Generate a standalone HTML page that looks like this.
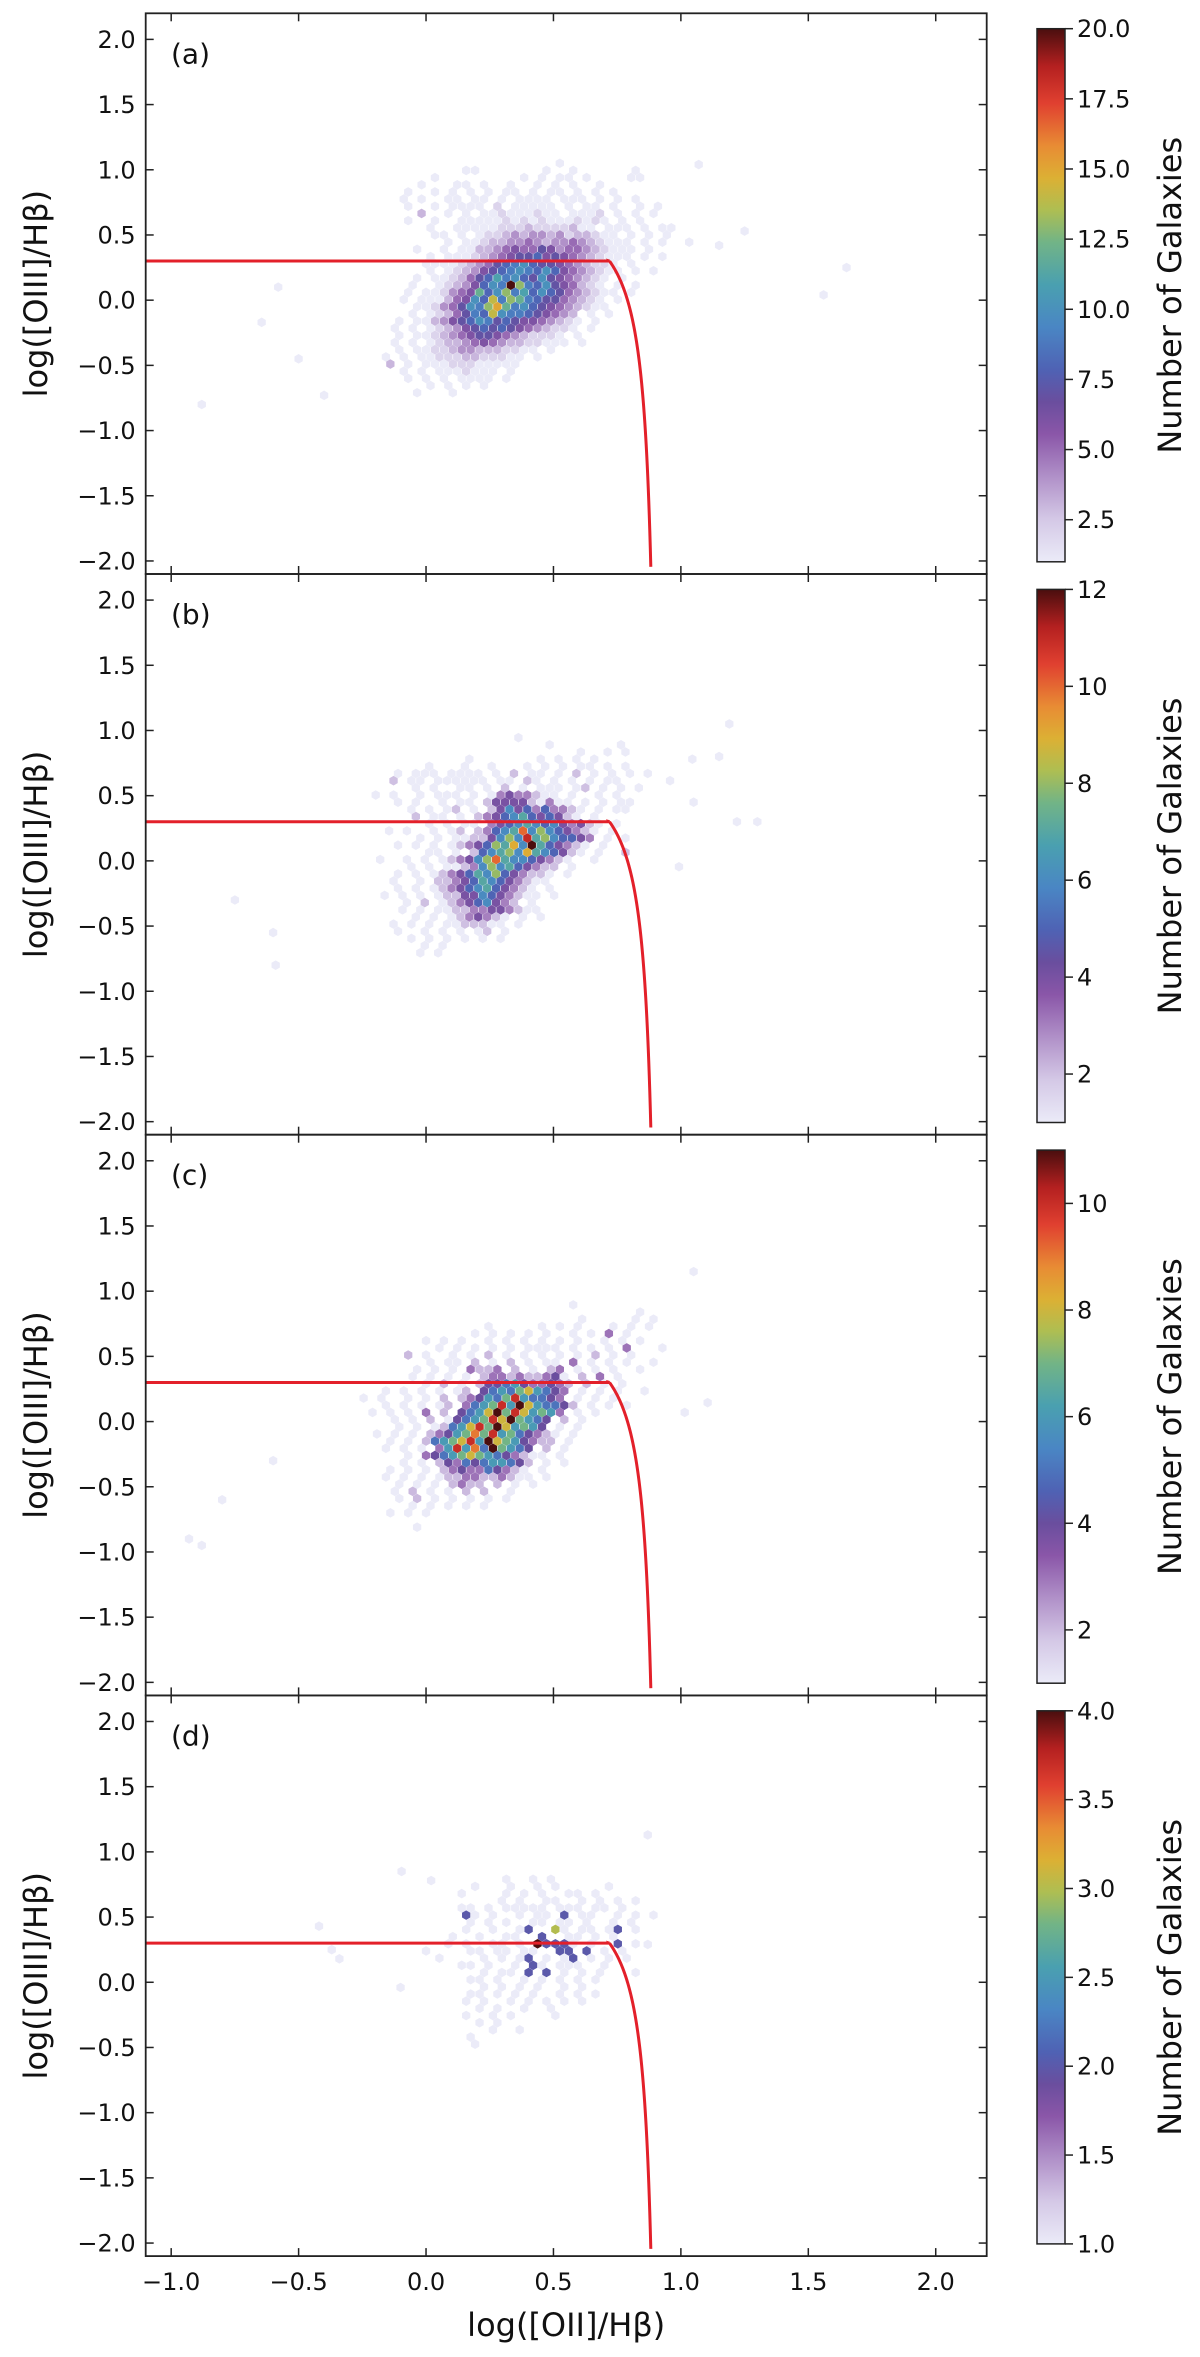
<!DOCTYPE html>
<html><head><meta charset="utf-8"><style>
body{margin:0;background:#fff}
svg{display:block}
text{font-family:"DejaVu Sans","Liberation Sans",sans-serif;fill:#111}
</style></head><body>
<svg id="fig" width="1200" height="2357" viewBox="0 0 1200 2357" xmlns="http://www.w3.org/2000/svg">
<defs>
<linearGradient id="cmap" x1="0" y1="1" x2="0" y2="0">
<stop offset="0" stop-color="#ebebf8"/><stop offset="0.08" stop-color="#d4c8e6"/><stop offset="0.16" stop-color="#b090c8"/><stop offset="0.24" stop-color="#8a56a8"/><stop offset="0.3" stop-color="#6a4e9e"/><stop offset="0.36" stop-color="#4f62b4"/><stop offset="0.44" stop-color="#4a86c4"/><stop offset="0.52" stop-color="#4aa0b0"/><stop offset="0.6" stop-color="#72b486"/><stop offset="0.66" stop-color="#aebe52"/><stop offset="0.72" stop-color="#dcb034"/><stop offset="0.78" stop-color="#e88c34"/><stop offset="0.86" stop-color="#e04030"/><stop offset="0.93" stop-color="#b42020"/><stop offset="1" stop-color="#4a0e0e"/>
</linearGradient>
</defs>
</svg>
<script>
const xTicks=[-1.0,-0.5,0.0,0.5,1.0,1.5,2.0];
const yTicks=[-2.0,-1.5,-1.0,-0.5,0.0,0.5,1.0,1.5,2.0];
const panelLabels=["(a)","(b)","(c)","(d)"];
const cbMax=[20,12,11,4];
const cbTicksA=[2.5,5.0,7.5,10.0,12.5,15.0,17.5,20.0];
const cbTicksB=[2,4,6,8,10,12];
const cbTicksC=[2,4,6,8,10];
const cbTicksD=[1.0,1.5,2.0,2.5,3.0,3.5,4.0];
const gridOrigin=[[-0.35,1.05],[-0.32,1.0],[-0.35,0.95],[-0.315,0.9]];
const gridA=[
".........................1..............",
"..............11.......1..1......1......",
"...........1.........1.1.11.1....11.....",
".........1...11.1..1..1.1.1..1..........",
"........1..1.1.1.1.11.1.11.1.1.1........",
".......1.1..11.11.1.1111.111.1.1.1......",
"........1..1.1111.2.11111.1.11.1..1.1...",
".........3..1.1.112111211.1112.1.1.1....",
"........1..1..11111212121112121.1.1.....",
"..........1..1111122232222311.111.1.11..",
"...........11.1.1223434434233211.1.1.1..",
"............1.1123344543445432111.1.1..1",
".........1..1.11334565576455432111.1....",
"..........1.111234567786765432111.1.1...",
"..........11112345789a8776543221.1......",
"..........1.12346789a98a86543211.1.1....",
".........1.1123578b9a87a7654321.1.......",
"........1..123468a9kd98a765321.1.1......",
"........1.112456c8ad9b8a87543211.1......",
".......1.111356a8e9dc987754321.1........",
".........112457a9dfc9a876543211.........",
"........1.1235798ea99876543.1.1.........",
".......1.1134678a97876654321.1..........",
"......1.1.12346787876543221.1...........",
".......1.11234567765432221.1............",
"......1.1.1233456543322111.1............",
".......1.11223443332211.1...............",
".....1.1.112223322211.1.................",
"......3.1.11122211111...................",
".......1.1.1112111.1....................",
"........1.1.1.1111.1....................",
"..........1.1.1.1.......................",
".........1...1.........................."];
const gridB=[
"........................................",
"...................1....................",
".......................1.......1........",
"..........................1..1.1........",
"..............1.......1.1.1.1..........1",
".........1...1..1...1.1.1.11.1.1........",
"......1.111.1111.1.2.11.1.2.1.1.1.1.....",
".....2.11.111111.11.21.1.1.1.11.....1...",
"........1.1..11.1.2.1.111.12.1.1.1......",
"...1.1..1.111.1.13433211.1..1.1.........",
"......1.1..1.11.2444421311.1.1.11.......",
".......1.1.12.1.24645353321.1.11........",
"........2.11.1.234567545421.1...........",
".........1.1.11.3456765643421.1.........",
".....1.1..1.12.23567a68654321.1.........",
"........1.1.11224686b7865543.1.1........",
"......1.1.1.123458796c754321.1..........",
".........11.1.2567869765421.1..2........",
"....1..1.1.123468a76654321..1...........",
".......1.1.1123686754322.1...........1..",
"......1.1.12345768543221.1..............",
".....1..1.2234576543211.................",
"......1.1.123456754321.1................",
"....1.1.1.122446543211.1................",
".......1.2.123456432.1..................",
"......1.1.112233443211..................",
"........1.1.1234321.1.1.................",
".....1.1.1.1122211.1....................",
"......1..1.1.1.12.1.....................",
".......1.1.1.1.1.1......................",
".........1.1............................",
"........1.1............................."];
const gridC=[
"........................................",
"..........................1.............",
"..................................1.....",
"...........................1.....1.1....",
".................1.....1.1.1...1.1.1....",
"...............1.1.1.1.1..1.1.3.1.......",
"..........1.1.1..1.1.1.1.1.1..1.1.1.....",
"...........1.1.1.1.1.1111.1.1.1.3...1...",
"........2.1..1.1.2.1.1.1.1.1.2.1.1......",
"..........1.11.2.1.2.1.11.3.1.1.1..1....",
".........1.1.1.3223.2.1.23.1.1.1..1.....",
"........1.1.1.1.2332322341.2.3.1........",
"..........1.2.1.24456433432.2.1.1.......",
".....1.1.1.1.12.4565786543.1.1.1..1.....",
"...1.1..1.1.2.234657a65543.1.1.1........",
".....1.1.1.12.3567a6b865542.1.1.1.......",
"....1.1.1.3.2.4568b7a86763.1.1.........1",
"......1.1.2.14567a8b7654.2.1............",
".......1.1.12568a7b86764.1.1............",
"....1.1.1.2346797a6754321.1.............",
"......1.1.25678a6b8764322.1.............",
".....1.1.1.36a695b7654.2.1..............",
"........1.34567876543211.1..............",
".......1.1.24354566542.1.1..............",
"......1.1.1.2343354321.1................",
".....1.1.1.12233223211.1................",
".......1.1.1.2322.2.1.1.................",
"......1.2.1.1.2.2..1....................",
".......1.2.1.1.1.1.1....................",
"........1.1.1.1.1.......................",
"......1.1.1.............................",
"........................................",
".........1.............................."];
const gridD=[
"........................................",
"........................................",
"..................1..1.1................",
"..............1...1..1.1.....1..........",
".............1....1.1.1..11.1...........",
".................1.1..11..1.1.1.1.......",
".............11.1.11111.111.11.1........",
".............21.1..1.11.2.11..1.1.1.....",
"..............1.1.1..11.11.1..1.1.......",
".............1..1..12..31.11.12.1.......",
"............1..1..11..2..11.1.1.........",
"...........1.1..11.1.42221.1..2.1.......",
".........1....11.11.11..22.2.1.1........",
"..........1....1.1.12.1.12.1.1.1........",
".............11.1..1.21.111..1..........",
"...............1.11.2.2.1.1.1...1.......",
"..............11.1..1.1.1.1.1...........",
"...............1.1.1.1..1.1.............",
"..............11.1.1.1..1.1.1...........",
".............1.1..1.1.1.1.1.............",
"...............1.1..1..1................",
".............1..1.1....1................",
"...............1.1......................",
"................1..1....................",
"........................................",
"..............1........................."];
const outX_A=[-0.88,-0.645,-0.40,1.65,1.56,1.25,1.07,1.15,-0.58,-0.5];
const outY_A=[-0.80,-0.17,-0.73,0.25,0.04,0.53,1.04,0.42,0.1,-0.45];
const outX_B=[-0.6,-0.59,-0.75,1.22,1.19,1.3,1.15,1.05];
const outY_B=[-0.55,-0.8,-0.3,0.3,1.05,0.3,0.8,0.45];
const outX_C=[-0.93,-0.88,-0.8,1.105,1.05,-0.6];
const outY_C=[-0.9,-0.95,-0.6,0.145,1.15,-0.3];
const outX_D=[-0.42,-0.37,-0.34,-0.1,0.87,0.87,0.175,-0.096,0.02];
const outY_D=[0.43,0.25,0.18,-0.04,1.13,0.29,-0.42,0.85,0.78];

const NS="http://www.w3.org/2000/svg";
const svg=document.getElementById('fig');
const X0=145.7,X1=986.7,XMIN=-1.1,XMAX=2.2,YMIN=-2.1,YMAX=2.2;
const PANEL_TOP=13.3,PANEL_H=560.7;
const CB_X=1037,CB_W=28;
const stops=[[0,"#ebebf8"],[0.08,"#d4c8e6"],[0.16,"#b090c8"],[0.24,"#8a56a8"],[0.3,"#6a4e9e"],[0.36,"#4f62b4"],[0.44,"#4a86c4"],[0.52,"#4aa0b0"],[0.6,"#72b486"],[0.66,"#aebe52"],[0.72,"#dcb034"],[0.78,"#e88c34"],[0.86,"#e04030"],[0.93,"#b42020"],[1,"#4a0e0e"]];
function hex2rgb(h){return [1,3,5].map(i=>parseInt(h.substr(i,2),16));}
function cmap(t){t=Math.max(0,Math.min(1,t));for(let i=1;i<stops.length;i++){if(t<=stops[i][0]){const a=stops[i-1],b=stops[i];const f=(t-a[0])/(b[0]-a[0]);const ca=hex2rgb(a[1]),cb=hex2rgb(b[1]);return 'rgb('+ca.map((v,k)=>Math.round(v+(cb[k]-v)*f)).join(',')+')';}}return stops[stops.length-1][1];}
function xs(v){return X0+(v-XMIN)/(XMAX-XMIN)*(X1-X0);}
function ys(v,p){const top=PANEL_TOP+p*PANEL_H;return top+(YMAX-v)/(YMAX-YMIN)*PANEL_H;}
function mk(tag,attrs,parent){const e=document.createElementNS(NS,tag);for(const k in attrs)e.setAttribute(k,attrs[k]);(parent||svg).appendChild(e);return e;}
function countOf(ch){if(ch==='.'||ch===' ')return 0;const c=parseInt(ch,36);return isNaN(c)?0:c;}
const DX=0.035,DY=0.055,R=4.8;
function hexPath(cx,cy){let d='';for(let k=0;k<6;k++){const a=Math.PI/180*(60*k-90);d+=(k?'L':'M')+(cx+R*Math.cos(a)).toFixed(2)+','+(cy+R*Math.sin(a)).toFixed(2);}return d+'Z';}
const grids=[gridA,gridB,gridC,gridD];
const outs=[[outX_A,outY_A],[outX_B,outY_B],[outX_C,outY_C],[outX_D,outY_D]];
const cbTicks=[cbTicksA,cbTicksB,cbTicksC,cbTicksD];
const cbFmt=[1,0,0,1];

for(let p=0;p<4;p++){
  const top=PANEL_TOP+p*PANEL_H,bot=top+PANEL_H;
  const g=mk('g',{});
  
  
  const clipId='clip'+p;
  const cp=mk('clipPath',{id:clipId},g);
  mk('rect',{x:X0,y:top,width:X1-X0,height:PANEL_H},cp);
  const hexG=mk('g',{'clip-path':'url(#'+clipId+')'},g);
  
  
  const vmax=cbMax[p];
  const [gx0,gy0]=gridOrigin[p];
  const rows=grids[p];
  for(let j=0;j<rows.length;j++){
    for(let i=0;i<rows[j].length;i++){
      const c=countOf(rows[j][i]);if(!c)continue;
      const vx=gx0+i*DX+(j%2?DX/2:0),vy=gy0-j*DY;
      const h=mk('path',{d:hexPath(xs(vx),ys(vy,p)),fill:cmap((Math.min(c,vmax)-1)/(vmax-1))},hexG);
      
      
    }
  }
  const [ox,oy]=outs[p];
  for(let k=0;k<ox.length;k++){
    const h=mk('path',{d:hexPath(xs(ox[k]),ys(oy[k],p)),fill:cmap(0)},hexG);
    
    
  }
  let d='M'+xs(XMIN)+','+ys(0.3,p)+' L'+xs(0.72)+','+ys(0.3,p);
  for(let x=0.72;x<0.92;x+=0.002){const y=0.11/(x-0.92)+0.85;if(y<YMIN-0.05)break;d+=' L'+xs(x).toFixed(2)+','+ys(y,p).toFixed(2);}
  const ln=mk('path',{d:d,fill:'none',stroke:'#e3202a','stroke-width':3},hexG);
  
  
  const fr=mk('rect',{x:X0,y:top,width:X1-X0,height:PANEL_H,fill:'none',stroke:'#222','stroke-width':1.8},g);
  
  
  for(const t of yTicks){
    const y=ys(t,p);
    mk('line',{x1:X0,y1:y,x2:X0+8,y2:y,stroke:'#222','stroke-width':1.5},g);
    mk('line',{x1:X1,y1:y,x2:X1-8,y2:y,stroke:'#222','stroke-width':1.5},g);
    const tl=mk('text',{x:X0-10,y:y+8.5,'text-anchor':'end','font-size':24},g);
    tl.textContent=(t<0?'\u2212':'')+Math.abs(t).toFixed(1);
    
    
  }
  for(const t of xTicks){
    const x=xs(t);
    mk('line',{x1:x,y1:bot,x2:x,y2:bot-8,stroke:'#222','stroke-width':1.5},g);
    mk('line',{x1:x,y1:top,x2:x,y2:top+8,stroke:'#222','stroke-width':1.5},g);
    if(p===3){
      const tl=mk('text',{x:x,y:bot+34,'text-anchor':'middle','font-size':24},g);
      tl.textContent=(t<0?'\u2212':'')+Math.abs(t).toFixed(1);
      
      
    }
  }
  const pl=mk('text',{x:171,y:top+50,'font-size':28},g);
  pl.textContent=panelLabels[p];
  
  
  const yl=mk('text',{x:0,y:0,'text-anchor':'middle','font-size':32,transform:'translate(47,'+(top+PANEL_H/2)+') rotate(-90)'},g);
  yl.textContent='log([OIII]/H\u03B2)';
  
  
  const cbTop=top+15.4,cbBot=top+548.5,cbH=cbBot-cbTop;
  const cb=mk('rect',{x:CB_X,y:cbTop,width:CB_W,height:cbH,fill:'url(#cmap)',stroke:'#222','stroke-width':1.5},g);
  
  
  for(const t of cbTicks[p]){
    const y=cbBot-(t-1)/(vmax-1)*cbH;
    mk('line',{x1:CB_X+CB_W,y1:y,x2:CB_X+CB_W+8,y2:y,stroke:'#222','stroke-width':1.5},g);
    const tl=mk('text',{x:CB_X+CB_W+12,y:y+8.5,'font-size':24},g);
    tl.textContent=t.toFixed(cbFmt[p]);
    
    
  }
  const cl=mk('text',{x:0,y:0,'text-anchor':'middle','font-size':32,transform:'translate(1181,'+(cbTop+cbH/2)+') rotate(-90)'},g);
  cl.textContent='Number of Galaxies';
  
  
}
const xl=mk('text',{x:(X0+X1)/2,y:2336,'text-anchor':'middle','font-size':32});
xl.textContent='log([OII]/H\u03B2)';


</script>
</body></html>
